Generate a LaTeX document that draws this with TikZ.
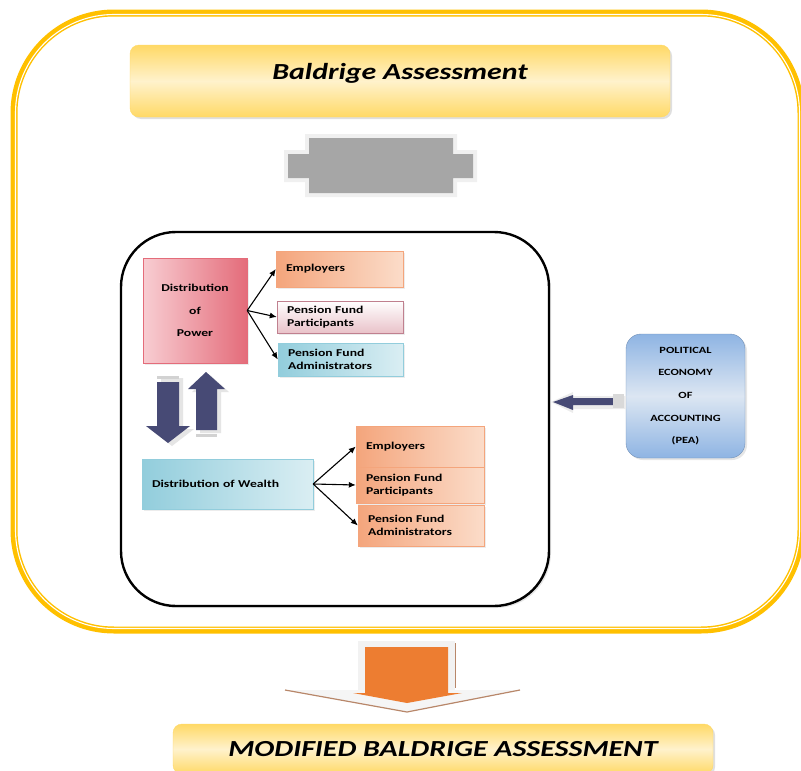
\documentclass[tikz,border=0pt]{standalone}
\usepackage{fontspec}
\setmainfont{Carlito}[FakeStretch=1.3]
\usepackage{tikz}
\usetikzlibrary{arrows.meta,shadows}
\definecolor{framegold}{HTML}{FFC000}
\definecolor{titledark}{HTML}{FFD966}
\definecolor{titlelight}{HTML}{FFF2CC}
\definecolor{powerred}{HTML}{E46C7A}
\definecolor{powerpink}{HTML}{F8CDD2}
\definecolor{empdark}{HTML}{F4A57C}
\definecolor{emplight}{HTML}{FBDCC9}
\definecolor{partborder}{HTML}{C0808F}
\definecolor{partpink}{HTML}{E9C2C9}
\definecolor{adminblue}{HTML}{92CDDC}
\definecolor{adminlight}{HTML}{DAEEF3}
\definecolor{peablue}{HTML}{8EB4E3}
\definecolor{pealight}{HTML}{DCE6F2}
\definecolor{slateblue}{HTML}{474A75}
\definecolor{flowgray}{HTML}{A6A6A6}
\definecolor{arroworange}{HTML}{ED7D31}
\definecolor{arrowbrown}{HTML}{B8876A}

\begin{document}
\begin{tikzpicture}[x=1pt, y=-1pt, >={Latex[length=7pt,width=6pt]}]
\tikzstyle{titlebox}=[rounded corners=9, draw=titledark, top color=titledark, bottom color=titledark, middle color=titlelight, minimum width=540, drop shadow={opacity=0.25, shadow xshift=2pt, shadow yshift=-2pt}, font=\fontsize{23}{28}\selectfont\bfseries\itshape]
\tikzstyle{box}=[draw, minimum height=34, align=left, inner xsep=10, font=\fontsize{10.5}{13.5}\selectfont\bfseries, drop shadow={opacity=0.15, shadow xshift=1.5pt, shadow yshift=-1.5pt}]
\tikzstyle{orangebox}=[box, draw=empdark, left color=empdark, right color=emplight]
\tikzstyle{bluebox}=[box, draw=adminblue, left color=adminblue, right color=adminlight]
\tikzstyle{fan}=[->, line width=1.1]
\clip (0,0) rectangle (801,771);

% outer frame
\draw[framegold, line width=7, rounded corners=100] (14,13) rectangle (801,630);
\draw[white, line width=1.1, rounded corners=98.5] (15.5,14.5) rectangle (799.5,628.5);

\node[titlebox, minimum height=72, text depth=20] (bald) at (400,81) {Baldrige Assessment};

% grey link shape
\fill[gray!12] (305,134) -- (457,134) -- (457,150) -- (477,150) -- (477,182) -- (457,182) -- (457,197) -- (305,197) -- (305,182) -- (284,182) -- (284,150) -- (305,150) -- cycle;
\fill[flowgray] (309,138) -- (453,138) -- (453,154) -- (473,154) -- (473,178) -- (453,178) -- (453,193) -- (309,193) -- (309,178) -- (288,178) -- (288,154) -- (309,154) -- cycle;

% inner frame
\draw[black, line width=2.4, rounded corners=55, drop shadow={opacity=0.2, shadow xshift=2pt, shadow yshift=-2pt}, fill=white] (121,232) rectangle (549,606);

\node[box, draw=powerred, left color=powerpink, right color=powerred, minimum width=104, minimum height=105, align=center, font=\fontsize{10.5}{22.5}\selectfont\bfseries] (power) at (195,310.5) {Distribution\\of\\Power};
\node[orangebox, text width=107, minimum height=36] (emp1) at (339.5,269) {Employers};
\node[box, draw=partborder, top color=white, bottom color=partpink, text width=106, minimum height=32] (part1) at (340,317) {Pension Fund\\Participants};
\node[bluebox, text width=105, minimum height=33] (admin1) at (340.5,359.5) {Pension Fund\\Administrators};

\node[bluebox, text width=151, minimum height=50] (wealth) at (227.5,484) {Distribution of Wealth};
\node[orangebox, text width=108, minimum height=41] (emp2) at (420,446.5) {Employers};
\node[orangebox, text width=108, minimum height=36] (part2) at (420,485) {Pension Fund\\Participants};
\node[orangebox, text width=106, minimum height=41] (admin2) at (421,525.5) {Pension Fund\\Administrators};

\node[draw=peablue!80!black, rounded corners=15, top color=peablue, bottom color=peablue, middle color=pealight, minimum width=119, minimum height=124, align=center, font=\fontsize{9.5}{22.7}\selectfont\bfseries, drop shadow={opacity=0.2, shadow xshift=2pt, shadow yshift=-2pt}] (pea) at (685.5,396) {POLITICAL\\ECONOMY\\OF\\ACCOUNTING\\(PEA)};

\draw[fan] (power.east) -- (emp1.west);
\draw[fan] (power.east) -- (part1.west);
\draw[fan] (power.east) -- (admin1.west);
\draw[fan] (wealth.east) -- (emp2.west);
\draw[fan] (wealth.east) -- (part2.west);
\draw[fan] (wealth.east) -- (admin2.west);

% down and up arrows
\fill[gray!20] (161,378) -- (183,378) -- (183,429) -- (194,429) -- (172,446) -- (150,429) -- (161,429) -- cycle;
\fill[slateblue] (157,382) -- (179,382) -- (179,426) -- (190,426) -- (168,443) -- (146,426) -- (157,426) -- cycle;
\fill[gray!35] (157,376) rectangle (179,379);
\fill[gray!20] (200,433) -- (221,433) -- (221,392) -- (229,392) -- (210,375) -- (192,392) -- (200,392) -- cycle;
\fill[slateblue] (196,430) -- (217,430) -- (217,389) -- (225,389) -- (206,372) -- (188,389) -- (196,389) -- cycle;
\fill[gray!35] (196,434) rectangle (217,437);

% arrow from PEA
\fill[gray!15] (551,402) -- (573,392) -- (573,396) -- (626,396) -- (626,409) -- (573,409) -- (573,413) -- cycle;
\fill[slateblue] (553,402) -- (573,395) -- (573,398) -- (613,398) -- (613,405) -- (573,405) -- (573,410) -- cycle;
\fill[gray!30] (613,394) rectangle (624,408);

% arrow to modified assessment
\fill[gray!10] (358,641) rectangle (455,693);
\fill[white!92!gray] (285,690) -- (520,690) -- (407,712) -- cycle;
\draw[arrowbrown, line width=1.2] (285,690) -- (407,712) -- (520,690);
\fill[arroworange] (365,647) -- (448,647) -- (448,693) -- (462,693) -- (407,703) -- (353,693) -- (365,693) -- cycle;
\draw[arrowbrown, line width=1] (455,643) -- (455,688);

\node[titlebox, minimum height=50] (mod) at (443,749) {MODIFIED BALDRIGE ASSESSMENT};
\end{tikzpicture}
\end{document}
